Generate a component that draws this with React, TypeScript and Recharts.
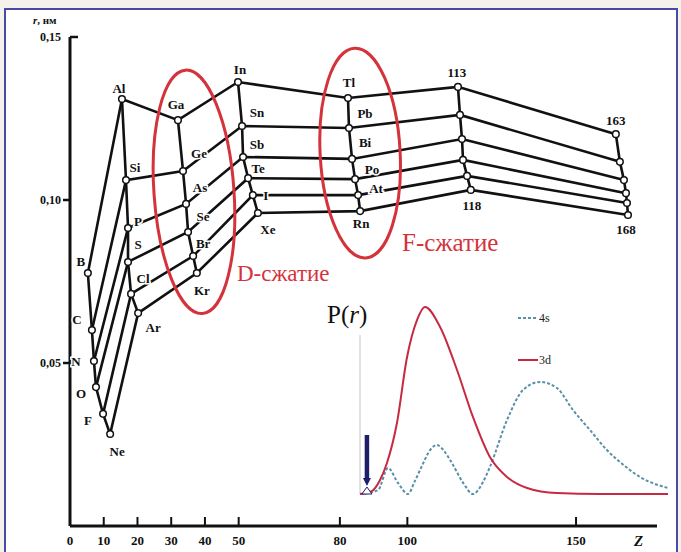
import React from 'react';
import { ComposedChart, Line, Scatter, XAxis, YAxis, ReferenceDot, ReferenceLine } from 'recharts';

type El = { el: string; z: number; r: number };

// Atomic radius r (nm) vs position along Z axis
const period2: El[] = [
  { el: 'B', z: 5.3, r: 0.0776 },
  { el: 'C', z: 6.5, r: 0.0601 },
  { el: 'N', z: 7.1, r: 0.0506 },
  { el: 'O', z: 7.7, r: 0.0426 },
  { el: 'F', z: 9.8, r: 0.0344 },
  { el: 'Ne', z: 11.9, r: 0.0282 },
];
const period3: El[] = [
  { el: 'Al', z: 15.4, r: 0.131 },
  { el: 'Si', z: 16.6, r: 0.1061 },
  { el: 'P', z: 17.2, r: 0.0914 },
  { el: 'S', z: 17.2, r: 0.081 },
  { el: 'Cl', z: 18.1, r: 0.0712 },
  { el: 'Ar', z: 20.2, r: 0.0653 },
];
const period4: El[] = [
  { el: 'Ga', z: 32.0, r: 0.1245 },
  { el: 'Ge', z: 33.5, r: 0.1089 },
  { el: 'As', z: 34.4, r: 0.0988 },
  { el: 'Se', z: 35.0, r: 0.0902 },
  { el: 'Br', z: 36.5, r: 0.0828 },
  { el: 'Kr', z: 37.6, r: 0.0776 },
];
const period5: El[] = [
  { el: 'In', z: 49.8, r: 0.1362 },
  { el: 'Sn', z: 51.0, r: 0.1227 },
  { el: 'Sb', z: 51.3, r: 0.1132 },
  { el: 'Te', z: 52.8, r: 0.1067 },
  { el: 'I', z: 54.2, r: 0.1015 },
  { el: 'Xe', z: 55.7, r: 0.096 },
];
const period6: El[] = [
  { el: 'Tl', z: 82.4, r: 0.1313 },
  { el: 'Pb', z: 82.7, r: 0.1221 },
  { el: 'Bi', z: 83.6, r: 0.1126 },
  { el: 'Po', z: 84.5, r: 0.1064 },
  { el: 'At', z: 85.4, r: 0.1015 },
  { el: 'Rn', z: 86.0, r: 0.0966 },
];
const period7: El[] = [
  { el: '113', z: 115.0, r: 0.1347 },
  { el: '114', z: 115.6, r: 0.1261 },
  { el: '115', z: 116.2, r: 0.1187 },
  { el: '116', z: 116.5, r: 0.1123 },
  { el: '117', z: 117.7, r: 0.1074 },
  { el: '118', z: 118.8, r: 0.1031 },
];
const period8: El[] = [
  { el: '163', z: 161.8, r: 0.1202 },
  { el: '164', z: 163.0, r: 0.1117 },
  { el: '165', z: 164.2, r: 0.1061 },
  { el: '166', z: 164.8, r: 0.1021 },
  { el: '167', z: 165.1, r: 0.0991 },
  { el: '168', z: 165.4, r: 0.0954 },
];
const periods = [period2, period3, period4, period5, period6, period7, period8];
const groups = [0, 1, 2, 3, 4, 5].map((k) => periods.map((p) => p[k]));
const labelled = ['B','C','N','O','F','Ne','Al','Si','P','S','Cl','Ar','Ga','Ge','As','Se','Br','Kr','In','Sn','Sb','Te','I','Xe','Tl','Pb','Bi','Po','At','Rn','113','118','163','168'];
const allElements = periods.flat().filter((e) => labelled.includes(e.el));

const xTicks = [0, 10, 20, 30, 40, 50, 80, 100, 150];
const yTicks = [0.05, 0.1, 0.15];

// Inset: radial distribution P(r), arbitrary units
const r3d = [0, 0.27, 0.51, 0.78, 1.05, 1.44, 1.83, 2.22, 2.53, 3.12, 3.78, 4.4, 5.06, 5.73, 6.51, 7.67, 9.35, 12];
const p3d = [0, 0.005, 0.02, 0.075, 0.166, 0.38, 0.73, 0.93, 1.0, 0.893, 0.663, 0.412, 0.198, 0.091, 0.032, 0.005, 0, 0];
const r4s = [0, 0.7, 1.09, 1.48, 1.87, 2.14, 2.4, 2.73, 3.0, 3.25, 3.58, 4.03, 4.4, 4.8, 5.06, 5.73, 6.35, 7.01, 7.67, 8.3, 8.96, 9.62, 10.27, 10.91, 12];
const p4s = [0, 0.02, 0.139, 0.059, 0, 0.07, 0.146, 0.235, 0.262, 0.235, 0.166, 0.057, 0, 0.066, 0.144, 0.396, 0.556, 0.599, 0.567, 0.449, 0.342, 0.235, 0.155, 0.091, 0.032];
const orbital3d = r3d.map((x, i) => ({ x, p: p3d[i] }));
const orbital4s = r4s.map((x, i) => ({ x, p: p4s[i] }));

// label placement (pixel offsets from point)
const labelOffsets: Record<string, [number, number]> = {
  Al: [-3, -10], Ga: [-2, -16], In: [2, -12], Tl: [1, -15], '113': [-1, -14], '163': [0, -14],
  Si: [9, -13], Ge: [16, -17], Sn: [15, -13], Pb: [16, -14],
  P: [10, -7], As: [14, -16], Sb: [14, -12], Bi: [13, -16],
  S: [10, -17], Se: [15, -15], Te: [10, -10], Po: [17, -10],
  Cl: [12, -15], Br: [10, -13], I: [13, 0], At: [18, -7],
  Ar: [15, 14], Kr: [5, 17], Xe: [10, 16], Rn: [1, 12], '118': [1, 16], '168': [-2, 15],
  B: [-7, -12], C: [-15, -11], N: [-18, 0], O: [-15, 6], F: [-15, 7], Ne: [7, 17],
};

const SERIF = "'Liberation Serif', 'DejaVu Serif', serif";
const RED = '#d4333b';

const XTick = (props: any) => {
  const { x, y, payload } = props;
  return (
    <g>
      {payload.value !== 0 && <line x1={x} x2={x} y1={y} y2={y - 9} stroke="#111" strokeWidth={2} />}
      <text x={x} y={y + 19} textAnchor="middle" fontFamily={SERIF} fontWeight="bold" fontSize={13} fill="#111">
        {payload.value}
      </text>
    </g>
  );
};

const YTick = (props: any) => {
  const { x, y, payload } = props;
  const top = payload.value >= 0.149;
  return (
    <g>
      <line x1={x} x2={top ? x + 8 : x - 7} y1={y} y2={y} stroke="#111" strokeWidth={2.5} />
      <text x={x - 9} y={y + 4} textAnchor="end" fontFamily={SERIF} fontWeight="bold" fontSize={12} fill="#111">
        {payload.value.toFixed(2).replace('.', ',')}
      </text>
    </g>
  );
};

const ElementDot = (props: any) => {
  const { cx, cy } = props;
  if (cx == null || cy == null) return null;
  return <circle cx={cx} cy={cy} r={3.3} fill="#fff" stroke="#111" strokeWidth={1.5} />;
};

const ElementLabel = (props: any) => {
  const { cx, cy, payload } = props;
  const off = labelOffsets[payload.el] || [0, 0];
  return (
    <text
      x={cx + off[0]}
      y={cy + off[1]}
      textAnchor="middle"
      dominantBaseline="central"
      fontFamily={SERIF}
      fontWeight="bold"
      fontSize={13}
      fill="#111"
      stroke="#fff"
      strokeWidth={3}
      paintOrder="stroke"
    >
      {payload.el}
    </text>
  );
};

const dContraction = { z: 36.75, r: 0.1025 };
const fContraction = { z: 86.0, r: 0.1144 };

const ellipse = (rx: number, ry: number, rot: number) => (props: any) => (
  <ellipse
    cx={props.cx}
    cy={props.cy}
    rx={rx}
    ry={ry}
    transform={`rotate(${rot} ${props.cx} ${props.cy})`}
    fill="none"
    stroke={RED}
    strokeWidth={3}
  />
);

const Arrow = (props: any) => {
  const { cx, cy } = props;
  return (
    <g>
      <line x1={cx} x2={cx} y1={cy - 59} y2={cy - 15} stroke="#1d1d6b" strokeWidth={4.5} />
      <polygon points={`${cx - 4},${cy - 16} ${cx + 4},${cy - 16} ${cx},${cy - 8}`} fill="#1d1d6b" />
      <polygon points={`${cx},${cy - 7} ${cx - 5},${cy} ${cx + 5},${cy}`} fill="#fff" stroke="#1d1d6b" strokeWidth={1} />
    </g>
  );
};

export default function App() {
  return (
    <div style={{ position: 'absolute', left: 0, top: 0, width: 681, height: 552, overflow: 'hidden', background: '#f3f3eb' }}>
      <div
        style={{
          position: 'absolute',
          left: 4,
          top: 8,
          width: 670,
          height: 560,
          border: '2px solid #4a4aa6',
          background: '#fff',
        }}
      />
      <div style={{ position: 'absolute', left: 0, top: 0 }}>
        <ComposedChart width={681} height={552} margin={{ top: 307, right: 13, bottom: 58, left: 360 }}>
          <XAxis type="number" dataKey="x" domain={[0, 12]} hide />
          <YAxis type="number" domain={[0, 1]} hide />
          <ReferenceLine segment={[{ x: 0, y: 0 }, { x: 0, y: 0.85 }]} stroke="#c4c4c4" strokeWidth={1} ifOverflow="visible" />
          <Line data={orbital4s} dataKey="p" type="monotone" stroke="#5a8fa8" strokeWidth={2} strokeDasharray="3 2" dot={false} isAnimationActive={false} />
          <Line data={orbital3d} dataKey="p" type="monotone" stroke="#c72a40" strokeWidth={2} dot={false} isAnimationActive={false} />
          <ReferenceDot x={0.27} y={0} r={0} shape={Arrow} ifOverflow="visible" />
        </ComposedChart>
      </div>
      <div style={{ position: 'absolute', left: 0, top: 0 }}>
        <ComposedChart width={681} height={552} margin={{ top: 37, right: 24, bottom: 0, left: 8 }}>
          <XAxis
            type="number"
            dataKey="z"
            domain={[0, 174]}
            ticks={xTicks}
            tick={<XTick />}
            tickLine={false}
            tickSize={0}
            tickMargin={0}
            height={26}
            axisLine={{ stroke: '#111', strokeWidth: 3 }}
            allowDataOverflow
          />
          <YAxis
            type="number"
            dataKey="r"
            domain={[0, 0.15]}
            ticks={yTicks}
            tick={<YTick />}
            tickLine={false}
            tickSize={0}
            tickMargin={0}
            width={62}
            axisLine={{ stroke: '#111', strokeWidth: 3 }}
            allowDataOverflow
          />
          {groups.map((g, i) => (
            <Line key={'g' + i} data={g} dataKey="r" type="linear" stroke="#111" strokeWidth={2.6} dot={false} isAnimationActive={false} />
          ))}
          {periods.map((p, i) => (
            <Line key={'p' + i} data={p} dataKey="r" type="linear" stroke="#111" strokeWidth={2.6} dot={<ElementDot />} isAnimationActive={false} />
          ))}
          <Scatter data={allElements} dataKey="r" shape={<ElementLabel />} isAnimationActive={false} />
          <ReferenceDot x={dContraction.z} y={dContraction.r} r={0} shape={ellipse(40, 122, -4)} ifOverflow="visible" />
          <ReferenceDot x={fContraction.z} y={fContraction.r} r={0} shape={ellipse(40, 105, -3)} ifOverflow="visible" />
        </ComposedChart>
      </div>
      <svg width={681} height={552} style={{ position: 'absolute', left: 0, top: 0, pointerEvents: 'none' }}>
        <text x={33} y={24} fontFamily={SERIF} fontWeight="bold" fontSize={11} fill="#111">
          <tspan fontStyle="italic">r</tspan>, нм
        </text>
        <text x={634} y={546} fontFamily={SERIF} fontStyle="italic" fontWeight="bold" fontSize={15} fill="#111">Z</text>
        <text x={237} y={281} fontFamily={SERIF} fontSize={23} fill={RED}>D-сжатие</text>
        <text x={402} y={251} fontFamily={SERIF} fontSize={25} fill={RED}>F-сжатие</text>
        <text x={327} y={323} fontFamily={SERIF} fontSize={25} fill="#111">
          P(<tspan fontStyle="italic">r</tspan>)
        </text>
        <line x1={518} x2={537} y1={318} y2={318} stroke="#5a8fa8" strokeWidth={2} strokeDasharray="3 2" />
        <text x={539} y={322} fontFamily={SERIF} fontSize={12} fill="#222">4s</text>
        <line x1={518} x2={538} y1={360} y2={360} stroke="#c72a40" strokeWidth={2} />
        <text x={539} y={364} fontFamily={SERIF} fontSize={12} fill="#222">3d</text>
      </svg>
    </div>
  );
}
